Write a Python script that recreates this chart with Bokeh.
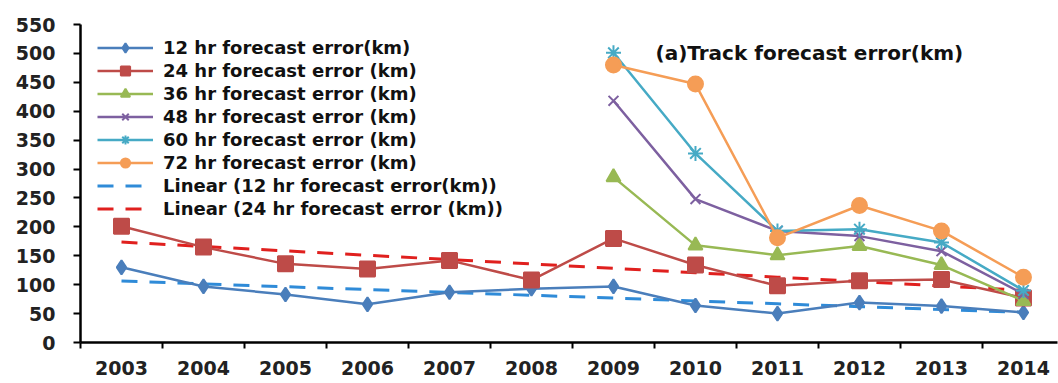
import numpy as np
from bokeh.plotting import figure
from bokeh.models import FixedTicker, Legend, LegendItem, Label, Range1d
from bokeh.embed import file_html
from bokeh.resources import INLINE

years = [2003, 2004, 2005, 2006, 2007, 2008, 2009, 2010, 2011, 2012, 2013, 2014]
err12 = [130, 97, 83, 66, 87, 93, 97, 64, 50, 69, 63, 52]
err24 = [201, 165, 136, 127, 142, 108, 180, 134, 98, 107, 109, 77]
years_late = [2009, 2010, 2011, 2012, 2013, 2014]
err36 = [286, 168, 151, 167, 134, 72]
err48 = [418, 248, 193, 184, 158, 84]
err60 = [501, 327, 193, 196, 173, 90]
err72 = [480, 447, 181, 237, 193, 113]
y_ticks = [0, 50, 100, 150, 200, 250, 300, 350, 400, 450, 500, 550]

FONT = "DejaVu Sans"

p = figure(width=1058, height=383, output_backend="svg", toolbar_location=None,
           x_range=Range1d(2002.5, 2014.415), y_range=Range1d(0, 550),
           min_border_left=80, min_border_top=24, min_border_right=1, min_border_bottom=41)
p.grid.visible = False
p.outline_line_color = None
p.background_fill_color = "white"
p.border_fill_color = "white"

# axes
xa = p.xaxis[0]
xa.ticker = FixedTicker(ticks=years, minor_ticks=[y - 0.5 for y in years] + [2014.5])
xa.major_label_overrides = {y: str(y) for y in years}
xa.major_tick_line_color = None
xa.minor_tick_in = 0
xa.minor_tick_out = 6
xa.minor_tick_line_width = 2
xa.minor_tick_line_color = "black"
xa.axis_line_width = 2.5
xa.axis_line_color = "black"
xa.major_label_text_font = FONT
xa.major_label_text_font_style = "bold"
xa.major_label_text_font_size = "19px"
xa.major_label_text_color = "#222222"
xa.major_label_standoff = 12

ya = p.yaxis[0]
ya.ticker = FixedTicker(ticks=y_ticks)
ya.minor_tick_line_color = None
ya.major_tick_in = 0
ya.major_tick_out = 7
ya.major_tick_line_width = 2
ya.axis_line_width = 2.5
ya.axis_line_color = "black"
ya.major_label_text_font = FONT
ya.major_label_text_font_style = "bold"
ya.major_label_text_font_size = "19px"
ya.major_label_text_color = "#222222"
ya.major_label_standoff = 18

LW = 2.5
c12, c24, c36, c48, c60, c72 = "#4A7EBB", "#BE4B48", "#98B954", "#7D60A0", "#46AAC5", "#F59D56"

# trend lines (least squares, as in the spreadsheet's linear trendline)
k12 = np.polyfit(years, err12, 1)
k24 = np.polyfit(years, err24, 1)
t12 = [k12[0] * y + k12[1] for y in years]
t24 = [k24[0] * y + k24[1] for y in years]
tr12 = p.line(years, t12, line_color="#2F8BD8", line_width=3, line_dash="16 12")
tr24 = p.line(years, t24, line_color="#E0201E", line_width=3, line_dash="16 12")

def series(x, y, color, marker, size, fill=True):
    l = p.line(x, y, line_color=color, line_width=LW)
    m = p.scatter(x, y, marker=marker, size=size, line_color=color,
                  fill_color=color if fill else None, line_width=2)
    return [l, m]

r12 = series(years, err12, c12, "diamond", 14)
r24 = series(years, err24, c24, "square", 15)
r36 = series(years_late, err36, c36, "triangle", 14)
r48 = series(years_late, err48, c48, "x", 14)
r60 = series(years_late, err60, c60, "asterisk", 15)
r72 = series(years_late, err72, c72, "circle", 15)

legend = Legend(items=[
    LegendItem(label="12 hr forecast error(km)", renderers=r12),
    LegendItem(label="24 hr forecast error (km)", renderers=r24),
    LegendItem(label="36 hr forecast error (km)", renderers=r36),
    LegendItem(label="48 hr forecast error (km)", renderers=r48),
    LegendItem(label="60 hr forecast error (km)", renderers=r60),
    LegendItem(label="72 hr forecast error (km)", renderers=r72),
    LegendItem(label="Linear (12 hr forecast error(km))", renderers=[tr12]),
    LegendItem(label="Linear (24 hr forecast error (km))", renderers=[tr24]),
], location=(17, 122))
legend.margin = 0
legend.padding = 12
legend.spacing = 0
legend.label_height = 23
legend.glyph_height = 23
legend.glyph_width = 56
legend.label_standoff = 10
legend.label_text_font = FONT
legend.label_text_font_style = "bold"
legend.label_text_font_size = "18px"
legend.label_text_color = "#111111"
legend.background_fill_alpha = 0
legend.border_line_color = None
p.add_layout(legend)

title = Label(x=575, y=290, x_units="screen", y_units="screen",
              text="(a)Track forecast error(km)", text_font=FONT,
              text_font_style="bold", text_font_size="20px",
              text_baseline="middle", text_color="#111111")
p.add_layout(title)

open("out.html", "w").write(file_html(p, INLINE))
